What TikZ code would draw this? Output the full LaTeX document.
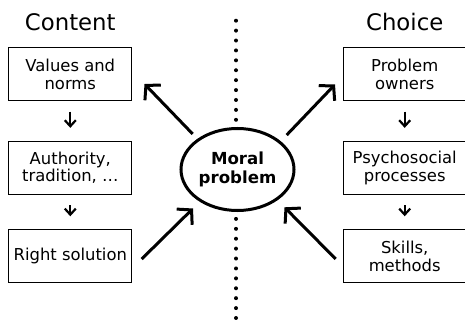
\documentclass[tikz,border=0pt]{standalone}
\usepackage{fontspec}
\setmainfont{DejaVu Sans}
\usetikzlibrary{arrows.meta,shapes.geometric}
\begin{document}
\begin{tikzpicture}[x=1pt,y=-1pt,
 box/.style={draw, line width=1.1pt, minimum width=123pt, minimum height=53pt, align=center, inner sep=0pt, font=\fontsize{16.4}{17.5}\selectfont},
 title/.style={font=\fontsize{22.8}{25}\selectfont, anchor=base},
 small/.style={line width=2.2pt, -{Straight Barb[length=6pt,width=11pt]}, shorten <=10.5pt, shorten >=13pt},
 big/.style={line width=3pt, -{Straight Barb[length=10pt,width=22pt]}},
 dots/.style={line width=4pt, line cap=round, dash pattern=on 0pt off 9.91pt}]
\useasboundingbox (0,0) rectangle (465,320);
% dotted divider
\coordinate (dt) at (236,20.7);
\coordinate (db) at (236,318);
\draw[dots] (dt) -- (db);
% titles
\node[title] (tc) at (70.3,30.7) {Content};
\node[title] (tch) at (404.7,30.7) {Choice};
% left boxes
\node[box] (l1) at (70.3,74.2) {Values and\\norms};
\node[box] (l2) at (70.3,167.9) {Authority,\\tradition, …};
\node[box] (l3) at (70.3,256.3) {Right solution};
% right boxes
\node[box] (r1) at (404.7,74.2) {Problem\\owners};
\node[box] (r2) at (404.7,167.9) {Psychosocial\\processes};
\node[box] (r3) at (404.7,256.3) {Skills,\\methods};
% center
\node[ellipse, draw, fill=white, line width=3pt, minimum width=113pt, minimum height=82pt, inner sep=0pt, align=center, font=\fontsize{16.6}{19}\selectfont\bfseries] (m) at (237.5,169.5) {Moral\\problem};
% small arrows
\draw[small] (l1.south) -- (l2.north);
\draw[small] (l2.south) -- (l3.north);
\draw[small] (r1.south) -- (r2.north);
\draw[small] (r2.south) -- (r3.north);
% big arrow endpoints
\coordinate (a1s) at (192.7,134);
\coordinate (a1e) at (144.5,84);
\coordinate (a2s) at (141.7,259);
\coordinate (a2e) at (193,208.5);
\coordinate (a3s) at (286.7,135);
\coordinate (a3e) at (335,84.5);
\coordinate (a4s) at (335.7,259);
\coordinate (a4e) at (284.5,207.3);
\draw[big] (a1s) -- (a1e);
\draw[big] (a2s) -- (a2e);
\draw[big] (a3s) -- (a3e);
\draw[big] (a4s) -- (a4e);
\end{tikzpicture}
\end{document}
